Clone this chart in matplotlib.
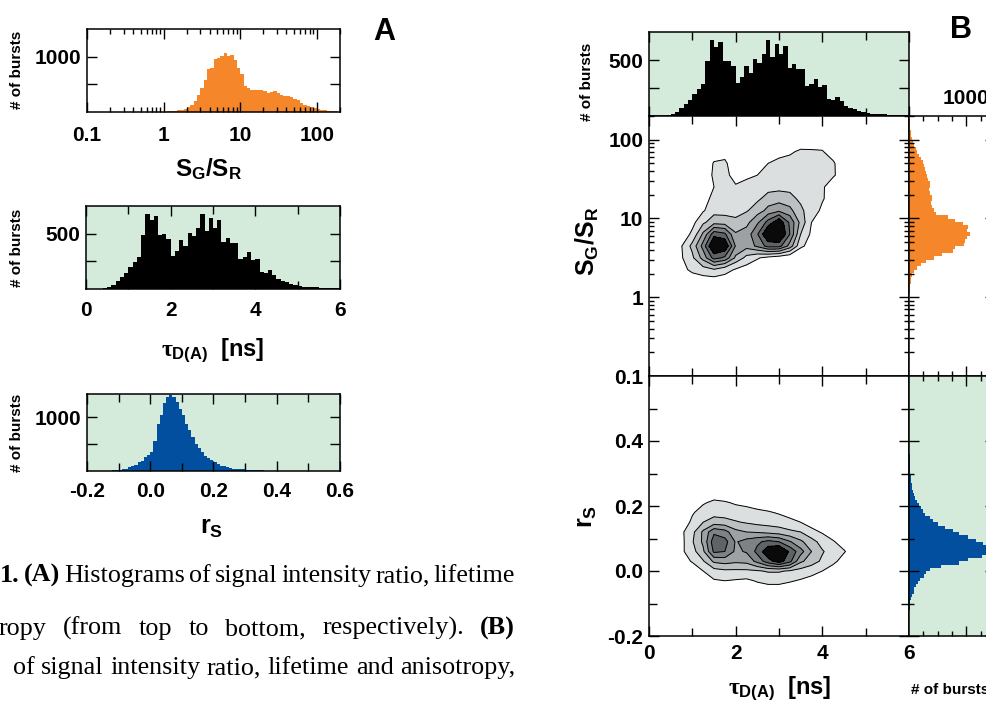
import numpy as np
import matplotlib
matplotlib.use('Agg')
import matplotlib.pyplot as plt
from matplotlib.ticker import LogLocator, NullFormatter

# ---- data ----
# S_G/S_R histogram, log bins from 1 to 200 (53 bins)
sg_counts = [5, 10, 15, 20, 30, 35, 50, 85, 135, 205,
             300, 435, 570, 770, 800, 965, 980, 1005, 1060, 1010,
             1025, 935, 800, 680, 465, 435, 405, 390, 395, 405,
             375, 345, 365, 375, 335, 315, 295, 285, 265, 240,
             210, 170, 135, 115, 95, 75, 55, 40, 30, 22,
             16, 12, 8]
sg_edges = np.logspace(0, np.log10(200), len(sg_counts) + 1)

# donor lifetime histogram, 0.1 ns bins from 0 to 6 ns
tau_counts = [2, 2, 3, 4, 10, 18, 36, 70, 107, 145,
              195, 245, 285, 490, 680, 620, 660, 490, 495, 450,
              295, 345, 445, 385, 510, 475, 555, 680, 525, 645,
              550, 625, 425, 465, 420, 420, 270, 290, 330, 260,
              275, 155, 145, 170, 130, 88, 73, 64, 48, 33,
              27, 22, 20, 16, 14, 10, 9, 8, 6, 5]
tau_edges = np.linspace(0, 6, len(tau_counts) + 1)

# anisotropy histogram, 0.01 bins from -0.2 to 0.6
r_counts = [3, 3, 3, 4, 4, 5, 5, 6, 10, 14,
            18, 28, 45, 80, 95, 115, 160, 195, 260, 295,
            360, 560, 880, 1035, 1265, 1370, 1405, 1375, 1285, 1160,
            1035, 880, 760, 635, 510, 420, 360, 280, 240, 212,
            175, 135, 100, 85, 75, 55, 45, 38, 34, 30,
            22, 18, 15, 12, 11, 10, 8, 7, 6, 5,
            4, 3, 3, 3, 2, 2, 2, 2, 2, 1,
            1, 1, 1, 1, 1, 1, 0, 0, 0, 0]
r_edges = np.linspace(-0.2, 0.6, len(r_counts) + 1)

# 2D burst densities (contour level units), columns = tau cells
grid_tau = [0.75, 1.0, 1.25, 1.5, 1.75, 2.0, 2.25, 2.5, 2.75, 3.0,
            3.25, 3.5, 3.75, 4.0, 4.25, 4.5, 4.75]
sg_rows_log = [0.2, 0.35, 0.5, 0.65, 0.8, 0.95, 1.1, 1.25, 1.4, 1.55, 1.7, 1.85, 2.0]
sg_density = [
    [0, 0.3, 0.5, 0.5, 0.5, 0.3, 0.2, 0.1, 0, 0, 0, 0, 0, 0, 0, 0, 0],
    [0.6, 1.3, 1.6, 1.9, 1.4, 0.9, 0.6, 0.4, 0.2, 0.1, 0, 0, 0, 0, 0, 0, 0],
    [0.9, 1.8, 3.4, 5.4, 4.8, 2.8, 1.7, 1.1, 0.7, 0.4, 0.2, 0.1, 0, 0, 0, 0, 0],
    [0.95, 2.3, 4.4, 7.4, 7.0, 3.9, 3.4, 4.2, 5.4, 5.4, 3.6, 1.2, 0.6, 0.3, 0, 0, 0],
    [0.4, 1.2, 3.2, 5.6, 5.2, 3.1, 3.4, 4.9, 7.2, 7.6, 5.0, 2.0, 0.8, 0.4, 0.1, 0, 0],
    [0.2, 0.7, 1.8, 2.6, 2.5, 2.3, 2.7, 3.8, 5.4, 6.8, 4.8, 2.7, 1.0, 0.5, 0.2, 0, 0],
    [0, 0.3, 0.9, 1.6, 1.6, 1.5, 1.9, 2.5, 3.3, 3.8, 3.3, 2.2, 1.5, 0.8, 0.3, 0, 0],
    [0, 0.1, 0.6, 1.3, 1.4, 1.2, 1.5, 1.8, 2.4, 2.5, 2.3, 1.8, 1.6, 1.1, 0.5, 0.1, 0],
    [0, 0, 0.3, 1.0, 1.2, 1.1, 1.3, 1.5, 1.6, 1.7, 1.7, 1.5, 1.4, 1.1, 0.6, 0.2, 0],
    [0, 0, 0.2, 1.2, 1.3, 0.6, 0.8, 1.0, 1.3, 1.4, 1.4, 1.3, 1.3, 1.2, 1.1, 0.6, 0.1],
    [0, 0, 0.1, 1.1, 1.2, 0.3, 0.4, 0.6, 1.0, 1.2, 1.2, 1.2, 1.2, 1.2, 1.1, 0.5, 0.1],
    [0, 0, 0, 0.3, 0.5, 0.1, 0.1, 0.2, 0.5, 0.7, 0.9, 1.1, 1.1, 1.05, 0.6, 0.2, 0],
    [0, 0, 0, 0, 0, 0, 0, 0, 0.1, 0.2, 0.3, 0.5, 0.4, 0.5, 0.2, 0, 0],
]
r_rows = [-0.06, -0.03, 0.0, 0.03, 0.06, 0.09, 0.12, 0.15, 0.18, 0.21, 0.24]
r_density = [
    [0, 0, 0, 0.2, 0.3, 0.3, 0.3, 0.4, 0.5, 0.5, 0.4, 0.3, 0.2, 0.1, 0, 0, 0],
    [0, 0.1, 0.5, 0.9, 1.0, 0.9, 0.8, 1.1, 1.3, 1.3, 1.1, 0.9, 0.7, 0.4, 0.1, 0, 0],
    [0.1, 0.3, 1.0, 1.6, 1.8, 1.8, 1.8, 1.9, 2.1, 2.1, 1.9, 1.6, 1.3, 1.0, 0.4, 0.1, 0],
    [0.5, 1.1, 1.9, 3.2, 3.4, 3.2, 3.3, 4.3, 5.6, 6.5, 5.3, 3.2, 2.5, 1.8, 1.3, 0.5, 0.1],
    [0.8, 1.6, 2.8, 5.2, 5.0, 3.8, 4.1, 5.3, 6.8, 7.4, 5.8, 4.4, 3.0, 2.1, 1.5, 1.1, 0.4],
    [0.7, 1.9, 3.2, 5.6, 5.4, 3.9, 4.4, 4.8, 5.3, 5.0, 4.1, 3.2, 2.4, 1.6, 1.1, 0.5, 0.1],
    [0.8, 1.7, 3.2, 4.8, 4.4, 3.3, 3.0, 2.9, 2.7, 2.5, 2.2, 2.0, 1.3, 0.9, 0.4, 0, 0],
    [0.4, 1.2, 2.0, 2.5, 2.4, 2.1, 1.9, 1.7, 1.6, 1.5, 1.3, 1.0, 0.6, 0.3, 0, 0, 0],
    [0, 0.9, 1.4, 1.6, 1.5, 1.4, 1.3, 1.2, 1.1, 0.9, 0.6, 0.3, 0.1, 0, 0, 0, 0],
    [0, 0.3, 0.9, 1.2, 1.1, 0.9, 0.8, 0.6, 0.4, 0.2, 0, 0, 0, 0, 0, 0, 0],
    [0, 0, 0.2, 0.5, 0.4, 0.2, 0.1, 0, 0, 0, 0, 0, 0, 0, 0, 0, 0],
]
levels = [1, 2, 3, 4, 5, 6, 50]
gray_fills = ['#dcdfe0', '#bcc0c3', '#9da1a4', '#7e8285', '#5f6366', '#0a0a0a']

ORANGE = '#f5862a'
BLUE = '#024f9f'
GREEN = '#d4eadb'

W, H = 987, 703

plt.rcParams['font.family'] = 'Liberation Sans'
plt.rcParams['font.weight'] = 'bold'
plt.rcParams['mathtext.fontset'] = 'custom'
plt.rcParams['mathtext.rm'] = 'Liberation Sans:bold'
plt.rcParams['mathtext.bf'] = 'Liberation Sans:bold'
plt.rcParams['mathtext.it'] = 'Liberation Serif'
plt.rcParams['axes.linewidth'] = 1.1

fig = plt.figure(figsize=(W / 100, H / 100), dpi=100)


def rect(x0, y0, x1, y1):
    return [x0 / W, 1 - y1 / H, (x1 - x0) / W, (y1 - y0) / H]


def put(x, y, s, **kw):
    return fig.text(x / W, 1 - y / H, s, **kw)


def style(ax, xpad=8, ypad=4):
    ax.tick_params(which='both', direction='in', top=True, right=True,
                   width=1.0, labelsize=15)
    ax.tick_params(which='major', length=7)
    ax.tick_params(which='minor', length=3.5)
    ax.tick_params(axis='x', pad=xpad)
    ax.tick_params(axis='y', pad=ypad)


def log_minor(axis):
    axis.set_minor_locator(LogLocator(base=10, subs=np.arange(2, 10)))
    axis.set_minor_formatter(NullFormatter())


# ---- panel A ----
a1 = fig.add_axes(rect(87, 29, 340, 112))
a1.stairs(sg_counts, sg_edges, fill=True, color=ORANGE)
a1.set_xscale('log')
a1.set_xlim(0.1, 200)
a1.set_ylim(0, 1500)
a1.set_xticks([0.1, 1, 10, 100], ['0.1', '1', '10', '100'])
log_minor(a1.xaxis)
a1.set_yticks([500, 1000], ['', '1000'])
style(a1, xpad=10)

a2 = fig.add_axes(rect(86, 206, 340, 289))
a2.set_facecolor(GREEN)
a2.stairs(tau_counts, tau_edges, fill=True, color='black')
a2.set_xlim(0, 6)
a2.set_ylim(0, 750)
a2.set_xticks([0, 2, 4, 6], ['0', '2', '4', '6'])
a2.set_xticks([1, 3, 5], minor=True)
a2.set_yticks([250, 500], ['', '500'])
style(a2, xpad=9)
a2.tick_params(axis='x', which='minor', length=6)

a3 = fig.add_axes(rect(87, 394, 340, 471))
a3.set_facecolor(GREEN)
a3.stairs(r_counts, r_edges, fill=True, color=BLUE)
a3.set_xlim(-0.2, 0.6)
a3.set_ylim(0, 1430)
a3.set_xticks([-0.2, 0, 0.2, 0.4, 0.6], ['-0.2', '0.0', '0.2', '0.4', '0.6'])
a3.set_xticks([-0.1, 0.1, 0.3, 0.5], minor=True)
a3.set_yticks([500, 1000], ['', '1000'])
style(a3, xpad=8)
a3.tick_params(axis='x', which='minor', length=6)

for yc in (70, 248, 433):
    put(17, yc, '# of bursts', rotation=90, fontsize=11, ha='center', va='center')
put(209, 169, r'$\mathrm{S_G/S_R}$', fontsize=17.5, ha='center', va='center')
put(213, 350, r'$\tau_{\mathrm{D(A)}}$  [ns]', fontsize=17, ha='center', va='center')
put(212, 528, r'$\mathrm{r_S}$', fontsize=18, ha='center', va='center')
put(384, 32, 'A', fontsize=22, ha='center', va='center')

# ---- panel B ----
bt = fig.add_axes(rect(649, 32, 909, 116))
bt.set_facecolor(GREEN)
bt.stairs(tau_counts, tau_edges, fill=True, color='black')
bt.set_xlim(0, 6)
bt.set_ylim(0, 750)
bt.set_xticks([0, 2, 4, 6])
bt.set_xticks([1, 3, 5], minor=True)
bt.set_yticks([250, 500], ['', '500'])
style(bt)
bt.tick_params(axis='x', which='minor', length=6)
bt.tick_params(labelbottom=False)

b1 = fig.add_axes(rect(649, 116, 909, 376))
sg_grid_y = 10 ** np.array(sg_rows_log)
b1.contourf(grid_tau, sg_grid_y, sg_density, levels=levels, colors=gray_fills)
b1.contour(grid_tau, sg_grid_y, sg_density, levels=levels[:-1], colors='black',
           linewidths=0.7)
b1.set_yscale('log')
b1.set_xlim(0, 6)
b1.set_ylim(0.1, 200)
b1.set_yticks([0.1, 1, 10, 100], ['0.1', '1', '10', '100'])
log_minor(b1.yaxis)
b1.set_xticks([0, 2, 4, 6])
b1.set_xticks([1, 3, 5], minor=True)
style(b1)
b1.tick_params(axis='x', which='minor', length=6)
b1.tick_params(labelbottom=False)

b2 = fig.add_axes(rect(649, 376, 909, 636))
b2.contourf(grid_tau, r_rows, r_density, levels=levels, colors=gray_fills)
b2.contour(grid_tau, r_rows, r_density, levels=levels[:-1], colors='black',
           linewidths=0.7)
b2.set_xlim(0, 6)
b2.set_ylim(-0.2, 0.6)
b2.set_xticks([0, 2, 4, 6], ['0', '2', '4', '6'])
b2.set_xticks([1, 3, 5], minor=True)
b2.set_yticks([-0.2, 0, 0.2, 0.4], ['-0.2', '0.0', '0.2', '0.4'])
b2.set_yticks([-0.1, 0.1, 0.3, 0.5], minor=True)
style(b2, xpad=6)
b2.tick_params(which='minor', length=6)

bo = fig.add_axes(rect(909, 116, 995, 376))
bo.stairs(sg_counts, sg_edges, fill=True, color=ORANGE, orientation='horizontal')
bo.set_yscale('log')
bo.set_ylim(0.1, 200)
bo.set_yticks([0.1, 1, 10, 100])
log_minor(bo.yaxis)
bo.set_xlim(0, 1500)
bo.set_xticks([1000], ['1000'])
bo.set_xticks([250, 500, 750, 1250], minor=True)
style(bo)
bo.tick_params(labelleft=False, labelbottom=False, labeltop=True)
bo.tick_params(axis='x', pad=6)

bb = fig.add_axes(rect(909, 376, 995, 636))
bb.set_facecolor(GREEN)
bb.stairs(r_counts, r_edges, fill=True, color=BLUE, orientation='horizontal')
bb.set_ylim(-0.2, 0.6)
bb.set_yticks([-0.2, 0, 0.2, 0.4])
bb.set_yticks([-0.1, 0.1, 0.3, 0.5], minor=True)
bb.set_xlim(0, 1500)
bb.set_xticks([1000])
bb.set_xticks([250, 500, 750, 1250], minor=True)
style(bb)
bb.tick_params(labelleft=False, labelbottom=False)

put(587, 82, '# of bursts', rotation=90, fontsize=11, ha='center', va='center')
put(587, 241, r'$\mathrm{S_G/S_R}$', rotation=90, fontsize=18, ha='center', va='center')
put(587, 516, r'$\mathrm{r_S}$', rotation=90, fontsize=18, ha='center', va='center')
put(780, 688, r'$\tau_{\mathrm{D(A)}}$  [ns]', fontsize=17, ha='center', va='center')
put(950, 690, '# of bursts', fontsize=11, ha='center', va='center')
put(961, 30, 'B', fontsize=22, ha='center', va='center')

# ---- caption (justified lines, cut at the left edge) ----
renderer = fig.canvas.get_renderer()


def justify(words, bold, x0, x1, y):
    texts = []
    for w, b in zip(words, bold):
        texts.append(put(0, y, w, fontsize=18.8, family='Liberation Serif',
                         weight='bold' if b else 'normal', va='baseline'))
    widths = [t.get_window_extent(renderer).width for t in texts]
    gap = (x1 - x0 - sum(widths)) / (len(words) - 1)
    x = x0
    for t, wd in zip(texts, widths):
        t.set_x(x / W)
        x += wd + gap


justify(['1.', '(A)', 'Histograms', 'of', 'signal', 'intensity', 'ratio,', 'lifetime'],
        [True, True, False, False, False, False, False, False], 0, 515, 582)
justify(['ropy', '(from', 'top', 'to', 'bottom,', 'respectively).', '(B)'],
        [False] * 6 + [True], -1, 515, 635)
justify(['of', 'signal', 'intensity', 'ratio,', 'lifetime', 'and', 'anisotropy,'],
        [False] * 7, 13, 515, 674)

fig.savefig('out.png', dpi=100)
